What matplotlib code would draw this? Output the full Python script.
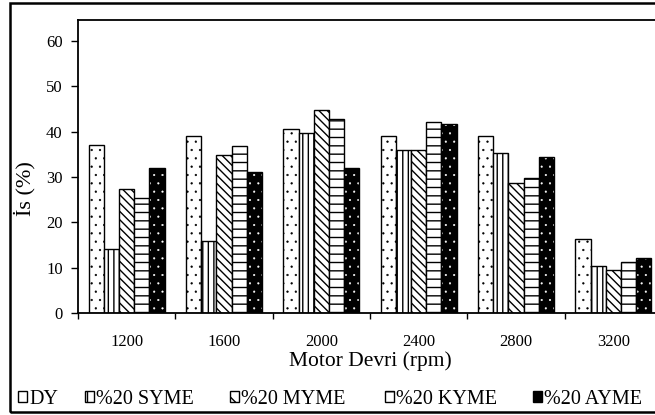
import matplotlib
matplotlib.use("Agg")
import matplotlib.pyplot as plt
from matplotlib.patches import Patch, Rectangle
import numpy as np

# Engine speeds and work values (%) for each fuel blend
speeds = ["1200", "1600", "2000", "2400", "2800", "3200"]
series_names = ["DY", "%20 SYME", "%20 MYME", "%20 KYME", "%20 AYME"]
dy = [37.0, 39.0, 40.7, 39.0, 39.0, 16.3]
syme = [14.1, 16.0, 39.8, 36.0, 35.3, 10.4]
myme = [27.4, 34.9, 44.8, 36.0, 28.8, 9.5]
kyme = [25.4, 36.8, 42.7, 42.2, 29.9, 11.4]
ayme = [32.0, 31.2, 32.0, 41.6, 34.5, 12.1]
yticks = [0, 10, 20, 30, 40, 50, 60]

plt.rcParams["font.family"] = ["Liberation Serif", "DejaVu Serif"]
plt.rcParams["hatch.linewidth"] = 1.0

W, H = 655, 415
fig = plt.figure(figsize=(W / 100, H / 100), dpi=100)
ax = fig.add_axes([78 / W, 1 - 313.3 / H, 584 / W, 293.3 / H])

x = np.arange(len(speeds))
w = 0.156
offs = [(j - 2) * w for j in range(5)]
lw = 1.0

with plt.rc_context({"hatch.linewidth": 0.4}):
    ax.bar(x + offs[0], dy, w, facecolor="white", edgecolor="black", hatch="..", linewidth=lw)
ax.bar(x + offs[1], syme, w, facecolor="white", edgecolor="black", hatch="|||", linewidth=lw)
ax.bar(x + offs[2], myme, w, facecolor="white", edgecolor="black", hatch="\\\\\\\\", linewidth=lw)
ax.bar(x + offs[3], kyme, w, facecolor="white", edgecolor="black", hatch="--", linewidth=lw)
# black bars with white dots, then a black outline on top
with plt.rc_context({"hatch.linewidth": 0.3}):
    ax.bar(x + offs[4], ayme, w, facecolor="black", edgecolor="white", hatch="..", linewidth=0)
ax.bar(x + offs[4], ayme, w, fill=False, edgecolor="black", linewidth=lw)

ax.set_xlim(-0.5, len(speeds) - 0.5)
ax.set_ylim(0, 64.6)
ax.set_yticks(yticks)
ax.set_yticklabels([str(v) for v in yticks], fontsize=12)
ax.tick_params(axis="y", direction="out", length=5, width=1, pad=6)

# category boundaries carry the tick marks, centres carry the labels
ax.set_xticks(np.arange(len(speeds) + 1) - 0.5)
ax.set_xticklabels([])
ax.tick_params(axis="x", which="major", direction="out", length=4, width=1)
ax.set_xticks(x, minor=True)
ax.set_xticklabels(speeds, minor=True, fontsize=12)
ax.tick_params(axis="x", which="minor", length=0, pad=15)

for s in ax.spines.values():
    s.set_linewidth(1.3)

ax.set_xlabel("Motor Devri (rpm)", fontsize=15.5, labelpad=1)
fig.text(25 / W, 1 - 189 / H, "İs (%)", rotation=90, ha="center", va="center", fontsize=16)

handles = [
    Patch(facecolor="white", edgecolor="black", hatch=".", linewidth=1),
    Patch(facecolor="white", edgecolor="black", hatch="||", linewidth=1),
    Patch(facecolor="white", edgecolor="black", hatch="\\\\", linewidth=1),
    Patch(facecolor="white", edgecolor="black", hatch="-", linewidth=1),
    Patch(facecolor="black", edgecolor="black", linewidth=1),
]
legend_left_px = [18, 85, 230, 385, 533]
for h, name, lx in zip(handles, series_names, legend_left_px):
    fig.legend([h], [name], loc="center left", bbox_to_anchor=(lx / W, 1 - 399 / H),
               frameon=False, fontsize=14.5, handlelength=0.45, handleheight=0.45,
               handletextpad=0.1, borderaxespad=0, borderpad=0)

# outer chart border
fig.patches.append(Rectangle((10 / W, 1 - 412 / H), 1.0, 409 / H, transform=fig.transFigure,
                             fill=False, edgecolor="black", linewidth=1.8))

fig.savefig("out.png", dpi=100)
